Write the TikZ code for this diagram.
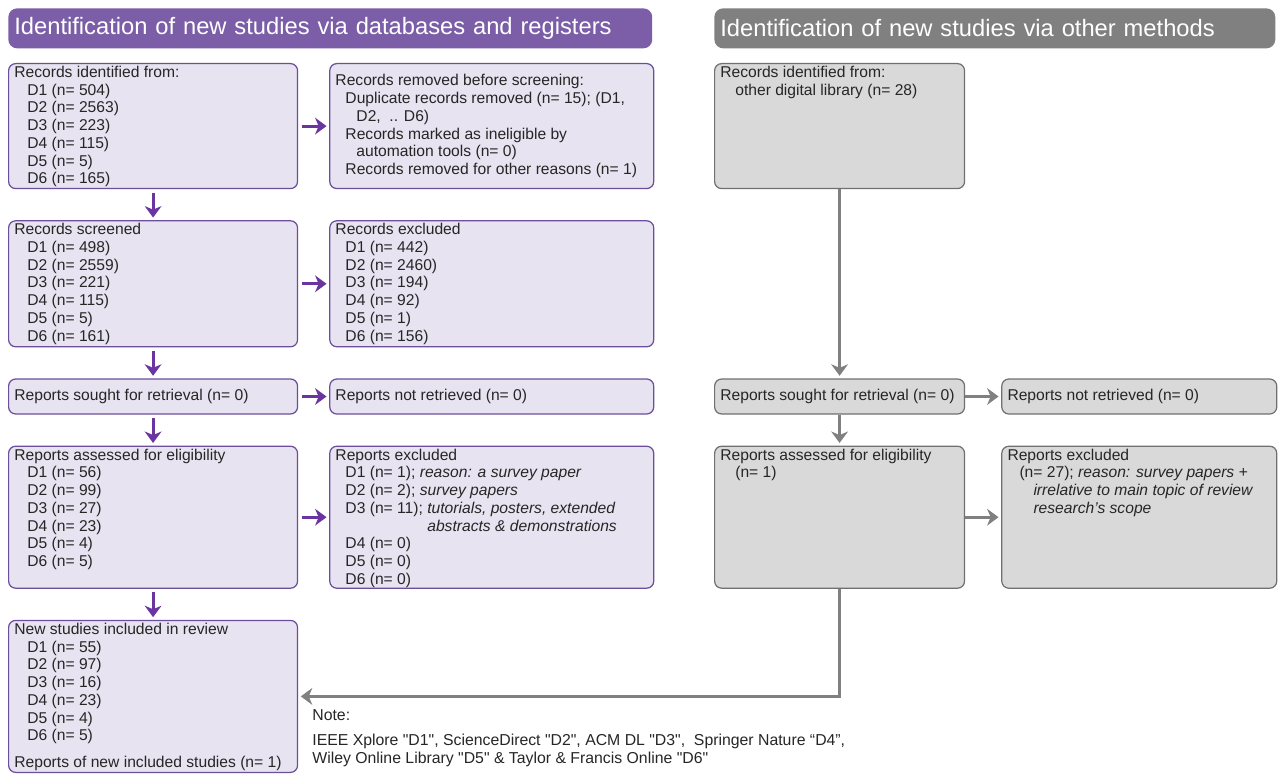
\documentclass[tikz,border=0pt]{standalone}
\usepackage{fontspec}
\setmainfont{Liberation Sans}
\usetikzlibrary{positioning,arrows.meta}
\definecolor{PHead}{HTML}{7B5EA7}
\definecolor{PFill}{HTML}{E7E3F0}
\definecolor{PLine}{HTML}{6C4F9C}
\definecolor{PArrow}{HTML}{6A35A0}
\definecolor{GHead}{HTML}{808080}
\definecolor{GFill}{HTML}{D9D9D9}
\definecolor{GLine}{HTML}{707070}
\definecolor{GArrow}{HTML}{808080}
\newcommand{\boxfont}{\fontsize{8.9}{10.1}\selectfont}
\newcommand{\indt}{\hspace*{0.26cm}}

\begin{document}
\begin{tikzpicture}[x=0.02cm, y=-0.02cm, node distance=0.62cm and 0.62cm,
  head/.style={rounded corners=5pt, minimum height=0.8cm, anchor=north west, text=white, align=left, font=\fontsize{13.5}{16}\selectfont},
  pbox/.style={draw=PLine, fill=PFill, rounded corners=4pt, line width=0.7pt},
  gbox/.style={draw=GLine, fill=GFill, rounded corners=4pt, line width=0.7pt},
  btext/.style={anchor=north west, align=left, inner xsep=3.4pt, inner ysep=1.6pt, font=\boxfont, text=black!85},
  parrow/.style={-{Stealth[length=6.5pt, width=9.5pt, inset=2pt]}, draw=PArrow, line width=1.7pt, shorten <=2pt, shorten >=1.5pt},
  garrow/.style={-{Stealth[length=6.5pt, width=9.5pt, inset=2pt]}, draw=GArrow, line width=1.8pt, shorten >=1.5pt}]
\useasboundingbox (0,0) rectangle (1281,776);
\node[head, fill=PHead, minimum width=12.88cm, text width=12.64cm] (hdb) at (8,8) {Identification of new studies via databases and registers};
\node[head, fill=GHead, minimum width=11.22cm, text width=10.98cm] (hot) at (714,8) {Identification of new studies via other methods};

\node[pbox, anchor=north west, minimum width=5.78cm, minimum height=2.5cm, label={[btext]north west:{Records identified from:\\ \indt D1 (n= 504)\\ \indt D2 (n= 2563)\\ \indt D3 (n= 223)\\ \indt D4 (n= 115)\\ \indt D5 (n= 5)\\ \indt D6 (n= 165)}}] (id) at (8,63) {};
\node[pbox, right=of id, minimum width=6.48cm, minimum height=2.5cm, label={[btext, anchor=west]west:{Records removed before screening:\\ \hspace*{0.2cm}Duplicate records removed (n= 15); (D1,\\ \hspace*{0.42cm}D2, \ .. D6)\\ \hspace*{0.2cm}Records marked as ineligible by\\ \hspace*{0.42cm}automation tools (n= 0)\\ \hspace*{0.2cm}Records removed for other reasons (n= 1)}}] (rm) {};
\node[pbox, below=of id, minimum width=5.78cm, minimum height=2.52cm, label={[btext]north west:{Records screened\\ \indt D1 (n= 498)\\ \indt D2 (n= 2559)\\ \indt D3 (n= 221)\\ \indt D4 (n= 115)\\ \indt D5 (n= 5)\\ \indt D6 (n= 161)}}] (scr) {};
\node[pbox, right=of scr, minimum width=6.48cm, minimum height=2.52cm, label={[btext]north west:{Records excluded\\ \hspace*{0.2cm}D1 (n= 442)\\ \hspace*{0.2cm}D2 (n= 2460)\\ \hspace*{0.2cm}D3 (n= 194)\\ \hspace*{0.2cm}D4 (n= 92)\\ \hspace*{0.2cm}D5 (n= 1)\\ \hspace*{0.2cm}D6 (n= 156)}}] (exc) {};
\node[pbox, below=of scr, minimum width=5.78cm, minimum height=0.7cm, label={[btext, anchor=west]west:{Reports sought for retrieval (n= 0)}}] (sgt) {};
\node[pbox, right=of sgt, minimum width=6.48cm, minimum height=0.7cm, label={[btext, anchor=west]west:{Reports not retrieved (n= 0)}}] (nrt) {};
\node[pbox, below=of sgt, minimum width=5.78cm, minimum height=2.84cm, label={[btext]north west:{Reports assessed for eligibility\\ \indt D1 (n= 56)\\ \indt D2 (n= 99)\\ \indt D3 (n= 27)\\ \indt D4 (n= 23)\\ \indt D5 (n= 4)\\ \indt D6 (n= 5)}}] (asd) {};
\node[pbox, right=of asd, minimum width=6.48cm, minimum height=2.84cm, label={[btext]north west:{Reports excluded\\ \hspace*{0.2cm}D1 (n= 1); \textit{reason: a survey paper}\\ \hspace*{0.2cm}D2 (n= 2); \textit{survey papers}\\ \hspace*{0.2cm}D3 (n= 11); \textit{tutorials, posters, extended}\\ \hspace*{0.2cm}\phantom{D3 (n= 11); }\textit{abstracts \& demonstrations}\\ \hspace*{0.2cm}D4 (n= 0)\\ \hspace*{0.2cm}D5 (n= 0)\\ \hspace*{0.2cm}D6 (n= 0)}}] (rex) {};
\node[pbox, below=of asd, minimum width=5.78cm, minimum height=3.04cm, label={[btext]north west:{New studies included in review\\ \indt D1 (n= 55)\\ \indt D2 (n= 97)\\ \indt D3 (n= 16)\\ \indt D4 (n= 23)\\ \indt D5 (n= 4)\\ \indt D6 (n= 5)\\[5pt] Reports of new included studies (n= 1)}}] (inc) {};

\node[gbox, anchor=north west, minimum width=5cm, minimum height=2.5cm, label={[btext]north west:{Records identified from:\\ \hspace*{0.3cm}other digital library (n= 28)}}] (oid) at (714,63) {};
\node[gbox, anchor=north west, minimum width=5cm, minimum height=0.7cm, label={[btext, anchor=west]west:{Reports sought for retrieval (n= 0)}}] (osgt) at (oid.west |- sgt.north) {};
\node[gbox, right=0.72cm of osgt, minimum width=5.5cm, minimum height=0.7cm, label={[btext, anchor=west]west:{Reports not retrieved (n= 0)}}] (onrt) {};
\node[gbox, below=of osgt, minimum width=5cm, minimum height=2.84cm, label={[btext]north west:{Reports assessed for eligibility\\ \hspace*{0.3cm}(n= 1)}}] (oasd) {};
\node[gbox, right=0.72cm of oasd, minimum width=5.5cm, minimum height=2.84cm, label={[btext]north west:{Reports excluded\\ \hspace*{0.24cm}(n= 27); \textit{reason: survey papers +}\\ \hspace*{0.52cm}\textit{irrelative to main topic of review}\\ \hspace*{0.52cm}\textit{research's scope}}}] (orex) {};

\node[anchor=north west, align=left, inner sep=0pt, font=\fontsize{9}{10.2}\selectfont, text=black!85] (note) at (312,709) {Note:\\[4pt] IEEE Xplore \textquotedbl D1\textquotedbl, ScienceDirect \textquotedbl D2\textquotedbl, ACM DL \textquotedbl D3\textquotedbl, \ Springer Nature “D4”,\\ Wiley Online Library \textquotedbl D5\textquotedbl\ \& Taylor \& Francis Online \textquotedbl D6\textquotedbl};

\draw[parrow] (id) -- (rm);
\draw[parrow] (id) -- (scr);
\draw[parrow] (scr) -- (exc);
\draw[parrow] (scr) -- (sgt);
\draw[parrow] (sgt) -- (nrt);
\draw[parrow] (sgt) -- (asd);
\draw[parrow] (asd) -- (rex);
\draw[parrow] (asd) -- (inc);
\draw[garrow] (oid) -- (osgt);
\draw[garrow] (osgt) -- (onrt);
\draw[garrow] (osgt) -- (oasd);
\draw[garrow] (oasd) -- (orex);
\draw[garrow] (oasd.south) |- (inc.east);
\end{tikzpicture}
\end{document}
